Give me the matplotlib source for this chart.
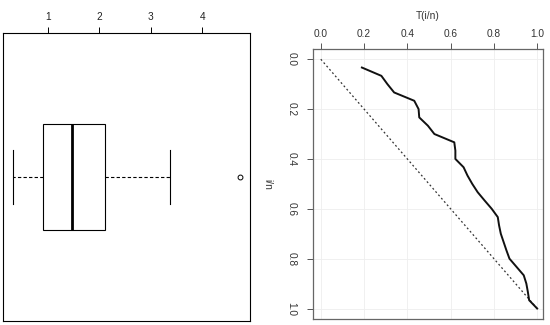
import matplotlib
matplotlib.use("Agg")
import matplotlib.pyplot as plt

plt.rcParams['font.family'] = ['Liberation Sans', 'DejaVu Sans']

# box plot summary
box_whislo = 0.31
box_q1 = 0.90
box_med = 1.47
box_q3 = 2.11
box_whishi = 3.38
box_outliers = [4.74]
box_ticks = [1, 2, 3, 4]

# TTT plot values
i_over_n = [k / 30 for k in range(1, 31)]
ttt = [0.19, 0.28, 0.308, 0.339, 0.432, 0.452, 0.455, 0.495, 0.525, 0.617,
       0.622, 0.622, 0.66, 0.678, 0.70, 0.725, 0.757, 0.79, 0.818, 0.824,
       0.832, 0.845, 0.858, 0.872, 0.905, 0.938, 0.95, 0.957, 0.963, 1.0]
ttt_ticks = [0.0, 0.2, 0.4, 0.6, 0.8, 1.0]

W, H = 550, 325
fig = plt.figure(figsize=(W / 100, H / 100), dpi=100)


def rect(x0, y0, x1, y1):
    return [x0 / W, 1 - y1 / H, (x1 - x0) / W, (y1 - y0) / H]


# left: horizontal boxplot
ax1 = fig.add_axes(rect(3, 33, 250, 321))
stats = [dict(whislo=box_whislo, q1=box_q1, med=box_med, q3=box_q3,
              whishi=box_whishi, fliers=box_outliers)]
ax1.bxp(stats, positions=[1], widths=0.4, orientation='horizontal',
        patch_artist=True,
        boxprops=dict(facecolor='white', edgecolor='black', linewidth=0.8),
        medianprops=dict(color='black', linewidth=2),
        whiskerprops=dict(color='black', linestyle=(0, (3, 2)), linewidth=0.8),
        capprops=dict(color='black', linewidth=0.8),
        capwidths=0.2,
        flierprops=dict(marker='o', markersize=3.5, markerfacecolor='none',
                        markeredgecolor='black', markeredgewidth=0.7))
ax1.set_xlim(0.123, 4.93)
ax1.set_ylim(0.46, 1.54)
ax1.set_xticks(box_ticks)
ax1.set_xticklabels([str(t) for t in box_ticks])
ax1.set_yticks([])
ax1.xaxis.tick_top()
ax1.tick_params(axis='x', labelsize=7.3, length=4, width=0.7, pad=4,
                labelcolor='#222222')
for s in ax1.spines.values():
    s.set_linewidth(0.8)

# right: TTT plot
ax2 = fig.add_axes(rect(313, 49, 543, 319))
ax2.grid(True, color='#eeeeee', linewidth=0.6)
ax2.set_axisbelow(True)
ax2.plot([0, 1], [0, 1], color='#333333', linestyle=(0, (1.5, 2)), linewidth=0.9)
ax2.plot(ttt, i_over_n, color='#111111', linewidth=1.4)
ax2.set_xlim(-0.036, 1.027)
ax2.set_ylim(1.042, -0.041)
ax2.set_xticks(ttt_ticks)
ax2.set_xticklabels([f"{t:.1f}" for t in ttt_ticks])
ax2.set_yticks(ttt_ticks)
ax2.set_yticklabels([f"{t:.1f}" for t in ttt_ticks], rotation=270, va='center')
ax2.xaxis.tick_top()
ax2.xaxis.set_label_position('top')
ax2.set_xlabel("T(i/n)", fontsize=7.3, color='#333333', labelpad=7)
ax2.set_ylabel("i/n", fontsize=7.3, color='#333333', rotation=270,
               labelpad=13.5, va='center')
ax2.tick_params(labelsize=7.3, length=4.3, width=0.7, colors='#555555',
                labelcolor='#333333', pad=3)
ax2.tick_params(axis='y', pad=7.5)
for s in ax2.spines.values():
    s.set_color('#666666')
    s.set_linewidth(0.9)

fig.savefig("out.png", dpi=100)
